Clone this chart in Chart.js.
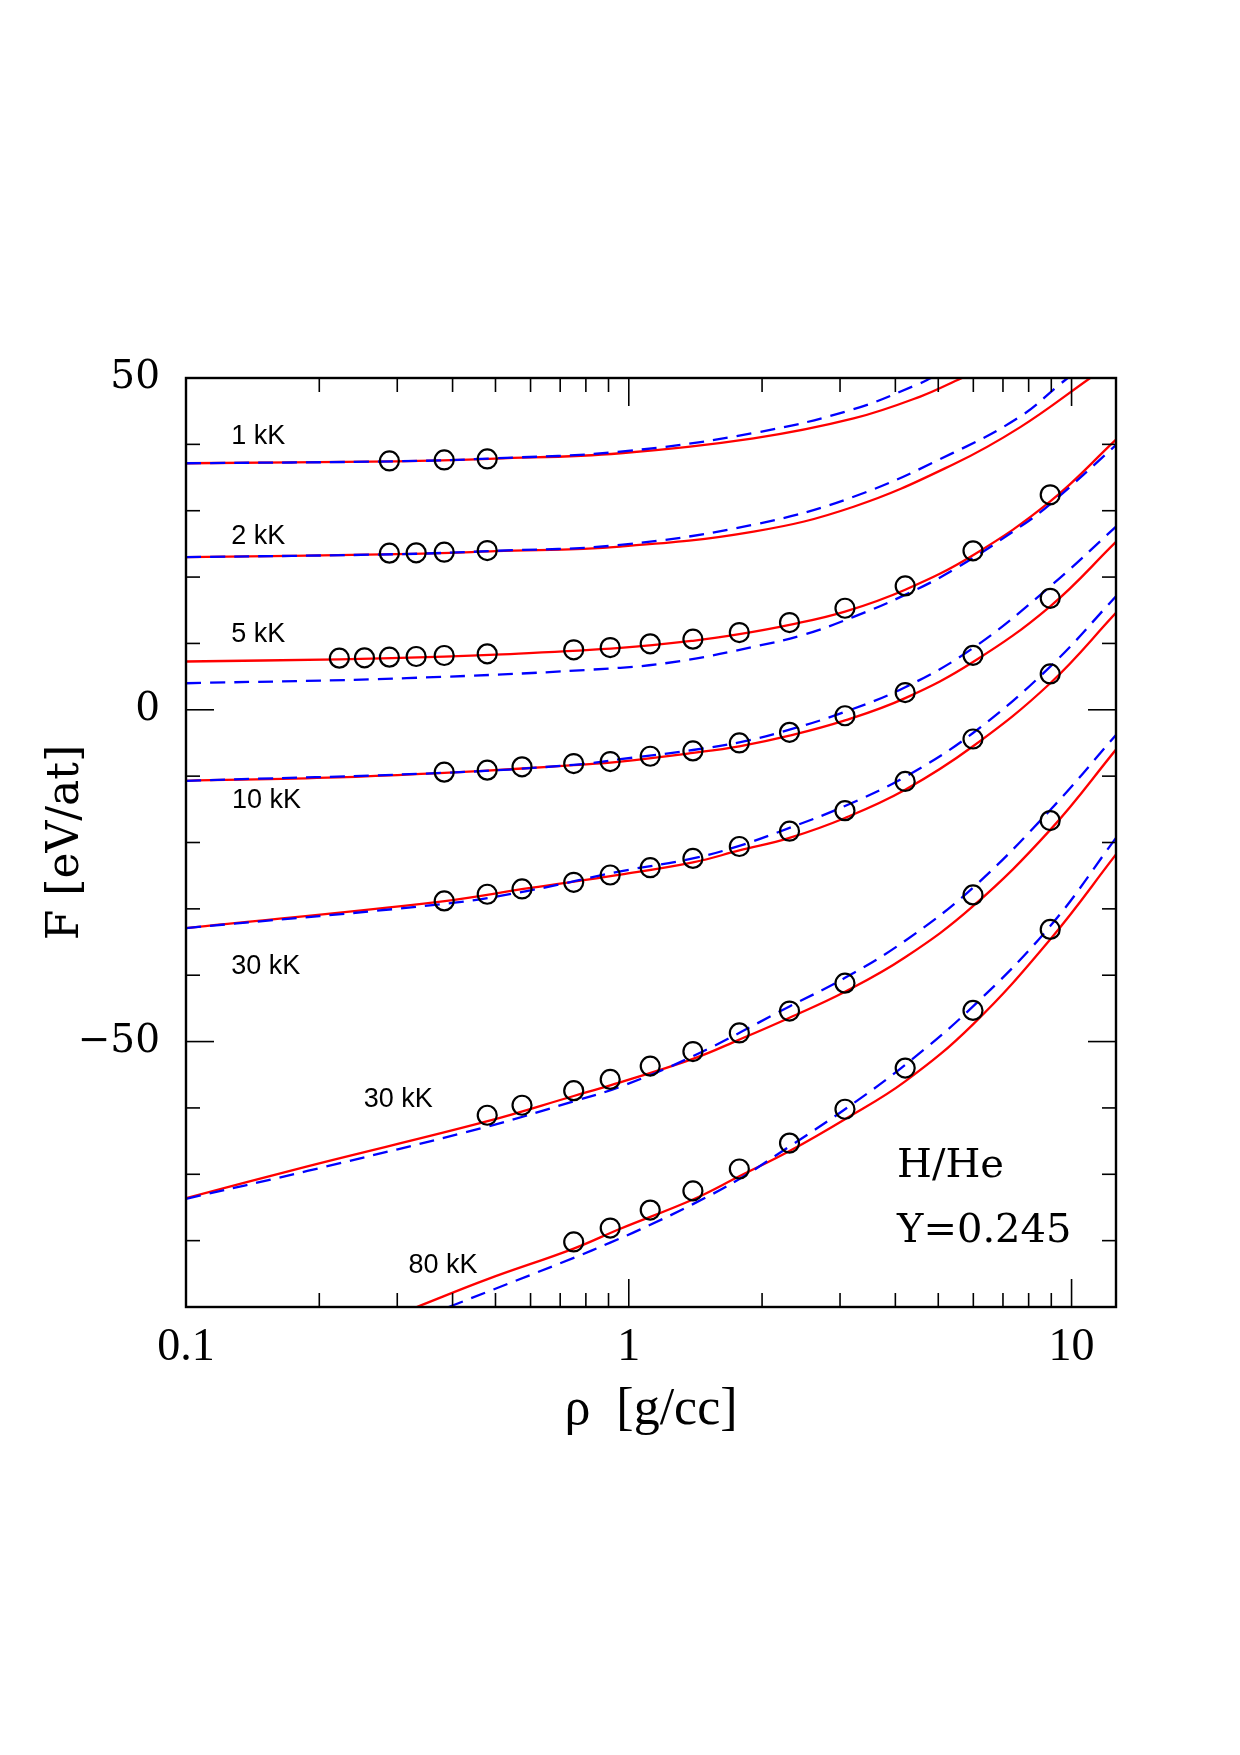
<!DOCTYPE html>
<html><head><meta charset="utf-8">
<script src="https://cdn.jsdelivr.net/npm/chart.js@4.4.1/dist/chart.umd.min.js"></script>
<style>html,body{margin:0;padding:0;background:#fff;} canvas{display:block;}</style>
</head><body>
<canvas id="c" width="1240" height="1755"></canvas>
<script>
// ---- Data: [rho (g/cc), F (eV/at)] pairs ----
// model curves (solid red)
const red1kK  = [[0.1,37.15],[0.3,37.45],[0.5,37.85],[0.957,38.66],[1.913,40.9],[3.219,43.9],[4.553,47.2],[5.656,50]];
const red2kK  = [[0.1,23.0],[0.3,23.45],[0.5,23.9],[0.957,24.6],[1.913,26.85],[3.219,30.6],[5.414,37.0],[7.66,42.6],[11.02,50]];
const red5kK  = [[0.1,7.28],[0.222,7.61],[0.383,8.0],[0.5,8.3],[0.957,9.33],[1.396,10.4],[1.777,11.4],[2.307,12.8],[3.078,14.8],[4.21,18.1],[5.99,23.3],[8.95,31.4],[12.6,40.7]];
const red10kK = [[0.1,-10.7],[0.22,-10.2],[0.383,-9.5],[0.574,-8.85],[0.751,-8.35],[0.957,-7.8],[1.396,-6.5],[1.777,-5.5],[2.307,-3.9],[3.078,-1.6],[4.21,1.76],[5.99,7.2],[8.95,15.6],[12.6,25.3]];
const red30kKa = [[0.1,-32.9],[0.376,-28.9],[0.6,-26.85],[0.957,-24.85],[1.396,-23.0],[1.777,-21.2],[2.307,-19.3],[3.078,-16.3],[4.21,-12.05],[5.99,-5.5],[8.95,4.0],[12.6,14.6]];
const red30kKb = [[0.1,-73.6],[0.188,-68.8],[0.48,-62.0],[0.751,-58.2],[0.908,-56.6],[1.396,-52.6],[1.777,-49.7],[2.307,-46.4],[3.078,-42.5],[4.21,-37.3],[5.99,-29.6],[8.95,-18.1],[12.6,-6.0]];
const red80kK = [[0.332,-90],[0.48,-85.8],[0.751,-81.2],[0.957,-78.2],[1.396,-73.8],[1.777,-70.3],[2.307,-66.5],[3.078,-61.7],[4.21,-56.0],[5.99,-47.4],[8.95,-34.6],[12.6,-21.8]];
// model curves (dashed blue)
const blue1kK  = [[0.1,37.15],[0.3,37.45],[0.5,37.9],[0.957,38.9],[1.913,41.7],[3.219,45.3],[4.553,49.2],[4.815,50]];
const blue2kK  = [[0.1,23.0],[0.3,23.45],[0.5,23.95],[0.957,24.85],[1.913,27.9],[3.219,32.1],[5.414,38.75],[7.66,44.2],[9.43,49.1],[9.8,50]];
const blue5kK  = [[0.1,4.0],[0.315,4.77],[0.957,6.33],[1.36,7.53],[1.913,9.5],[2.48,11.3],[3.219,14.0],[4.17,17.2],[5.414,21.1],[7.66,27.6],[8.95,31.0],[12.6,39.9]];
const blue10kK = [[0.1,-10.7],[0.383,-9.5],[0.751,-8.3],[0.957,-7.45],[1.396,-6.06],[1.777,-4.9],[2.307,-3.0],[3.078,-0.3],[4.21,3.4],[5.99,9.3],[8.95,18.6],[12.6,27.6]];
const blue30kKa = [[0.1,-32.9],[0.4,-29.1],[0.6,-27.2],[0.957,-24.35],[1.396,-22.4],[1.777,-20.5],[2.307,-17.8],[3.078,-14.5],[4.21,-10.1],[5.99,-3.5],[8.95,6.5],[12.6,17.1]];
const blue30kKb = [[0.1,-73.7],[0.188,-69.5],[0.48,-62.8],[0.751,-59.0],[0.957,-56.8],[1.396,-52.2],[2.307,-44.7],[3.078,-40.4],[4.21,-34.8],[5.99,-26.8],[8.95,-15.1],[12.6,-3.8]];
const blue80kK = [[0.392,-90],[0.751,-82.6],[0.908,-80.3],[1.062,-78.3],[1.396,-74.5],[1.777,-70.7],[2.307,-65.8],[3.078,-60.2],[4.21,-53.5],[5.99,-44.7],[8.95,-32.6],[12.6,-19.3]];
// simulation points (open circles)
const pts1kK  = [[0.288,37.5],[0.383,37.65],[0.479,37.8]];
const pts2kK  = [[0.288,23.6],[0.331,23.65],[0.383,23.75],[0.479,24.0]];
const pts5kK  = [[0.222,7.78],[0.253,7.83],[0.288,7.93],[0.331,8.03],[0.383,8.18],[0.479,8.43],[0.751,9.04],[0.908,9.38],[1.118,9.94],[1.396,10.64],[1.777,11.64],[2.307,13.15],[3.078,15.3],[4.21,18.67],[5.99,23.95],[8.95,32.4]];
const pts10kK = [[0.383,-9.4],[0.479,-9.1],[0.574,-8.6],[0.751,-8.1],[0.908,-7.8],[1.118,-7.0],[1.396,-6.2],[1.777,-5.0],[2.307,-3.4],[3.078,-0.9],[4.21,2.6],[5.99,8.2],[8.95,16.8]];
const pts30kKa = [[0.383,-28.8],[0.479,-27.8],[0.574,-27.0],[0.751,-26.0],[0.908,-24.9],[1.118,-23.8],[1.396,-22.4],[1.777,-20.6],[2.307,-18.3],[3.078,-15.2],[4.21,-10.8],[5.99,-4.4],[8.95,5.4]];
const pts30kKb = [[0.479,-61.1],[0.574,-59.6],[0.751,-57.4],[0.908,-55.7],[1.118,-53.7],[1.396,-51.5],[1.777,-48.7],[2.307,-45.4],[3.078,-41.2],[5.99,-27.9],[8.95,-16.7]];
const pts80kK = [[0.751,-80.2],[0.908,-78.1],[1.118,-75.4],[1.396,-72.5],[1.777,-69.2],[2.307,-65.3],[3.078,-60.2],[4.21,-54.0],[5.99,-45.3],[8.95,-33.1]];

const curveNames = ['1 kK','2 kK','5 kK','10 kK','30 kK','30 kK','80 kK'];
const xTickLabels = [0.1, 1, 10];
const xMinorTicks = [0.2,0.3,0.4,0.5,0.6,0.7,0.8,0.9,2,3,4,5,6,7,8,9];
const xMajorTicks = [1, 10];
const yTickLabels = [-50, 0, 50];
const yMinorTicks = [40,30,20,10,-10,-20,-30,-40,-60,-70,-80];
const yMajorTicks = [0, -50];
const annoText = ['H/He', 'Y=0.245'];

// ---- placement of text annotations (data coordinates) ----
const curveLabelAt = [[0.1265,41.15],[0.1265,26.08],[0.1265,11.27],[0.127,-13.74],[0.1265,-38.7],[0.252,-58.8],[0.318,-83.77]];
const annoAt = [[4.035,-70.36],[4.035,-80.15]];

const toXY = arr => arr.map(p => ({x: p[0], y: p[1]}));
const redSets  = [red1kK, red2kK, red5kK, red10kK, red30kKa, red30kKb, red80kK];
const blueSets = [blue1kK, blue2kK, blue5kK, blue10kK, blue30kKa, blue30kKb, blue80kK];
const ptSets   = [pts1kK, pts2kK, pts5kK, pts10kK, pts30kKa, pts30kKb, pts80kK];

const datasets = [];
ptSets.forEach((d, i) => datasets.push({
  label: curveNames[i] + ' points', data: toXY(d), showLine: false,
  pointRadius: 9.5, pointBorderWidth: 2.2, pointBorderColor: '#000',
  pointBackgroundColor: 'rgba(0,0,0,0)', order: 1
}));
blueSets.forEach((d, i) => datasets.push({
  label: curveNames[i] + ' dashed', data: toXY(d), showLine: true,
  borderColor: '#0000ff', borderWidth: 2.3, borderDash: [15, 9],
  pointRadius: 0, tension: 0.4, order: 2
}));
redSets.forEach((d, i) => datasets.push({
  label: curveNames[i] + ' solid', data: toXY(d), showLine: true,
  borderColor: '#ff0000', borderWidth: 2.3,
  pointRadius: 0, tension: 0.4, order: 3
}));

const decor = {
  id: 'decor',
  afterDatasetsDraw(chart) {
    const {ctx, chartArea: a, scales: {x, y}} = chart;
    ctx.save();
    ctx.strokeStyle = '#000';
    ctx.lineWidth = 1.6;
    const seg = (x1, y1, x2, y2) => { ctx.beginPath(); ctx.moveTo(x1, y1); ctx.lineTo(x2, y2); ctx.stroke(); };
    const xt = (v, len) => { const p = x.getPixelForValue(v); seg(p, a.bottom, p, a.bottom - len); seg(p, a.top, p, a.top + len); };
    const yt = (v, len) => { const p = y.getPixelForValue(v); seg(a.left, p, a.left + len, p); seg(a.right, p, a.right - len, p); };
    xMinorTicks.forEach(v => xt(v, 14));
    xMajorTicks.forEach(v => xt(v, 28));
    yMinorTicks.forEach(v => yt(v, 14));
    yMajorTicks.forEach(v => yt(v, 28));
    ctx.lineWidth = 2.4;
    ctx.strokeRect(a.left, a.top, a.right - a.left, a.bottom - a.top);

    ctx.fillStyle = '#000';
    ctx.textAlign = 'left';
    ctx.textBaseline = 'middle';
    ctx.font = '27px "Liberation Sans", Arial, sans-serif';
    curveLabelAt.forEach((p, i) => ctx.fillText(curveNames[i], x.getPixelForValue(p[0]), y.getPixelForValue(p[1])));
    ctx.textBaseline = 'alphabetic';
    ctx.font = '40px "DejaVu Serif", serif';
    annoAt.forEach((p, i) => ctx.fillText(annoText[i], x.getPixelForValue(p[0]), y.getPixelForValue(p[1])));
    ctx.restore();
  }
};

new Chart(document.getElementById('c'), {
  type: 'scatter',
  data: { datasets },
  options: {
    responsive: false, animation: false, events: [],
    devicePixelRatio: 1,
    layout: { padding: { left: 0, top: 378, right: 124, bottom: 0 } },
    plugins: { legend: { display: false }, tooltip: { enabled: false } },
    scales: {
      x: {
        type: 'logarithmic', position: 'bottom', min: 0.1, max: 12.6,
        grid: { display: false }, border: { display: false },
        afterBuildTicks: s => { s.ticks = xTickLabels.map(v => ({ value: v })); },
        afterFit: s => { s.height = 448; },
        ticks: {
          autoSkip: false, maxRotation: 0, color: '#000', padding: 5,
          font: { family: 'Liberation Serif', size: 46 },
          callback: v => String(v)
        },
        title: {
          display: true, text: 'ρ  [g/cc]', color: '#000',
          font: { family: 'Liberation Serif', size: 52 },
          padding: { top: 0, bottom: 313 }
        }
      },
      y: {
        type: 'linear', position: 'left', min: -90, max: 50,
        grid: { display: false }, border: { display: false },
        afterBuildTicks: s => { s.ticks = yTickLabels.map(v => ({ value: v })); },
        afterFit: s => { s.width = 186; },
        ticks: {
          autoSkip: false, color: '#000', padding: 18,
          font: { family: 'DejaVu Serif', size: 39 },
          callback: v => (v < 0 ? '\u2212' + Math.abs(v) : String(v))
        },
        title: {
          display: true, text: 'F [eV/at]', color: '#000',
          font: { family: 'DejaVu Serif', size: 44 },
          padding: { top: 40, bottom: 0 }
        }
      }
    }
  },
  plugins: [decor]
});
</script>
</body></html>
